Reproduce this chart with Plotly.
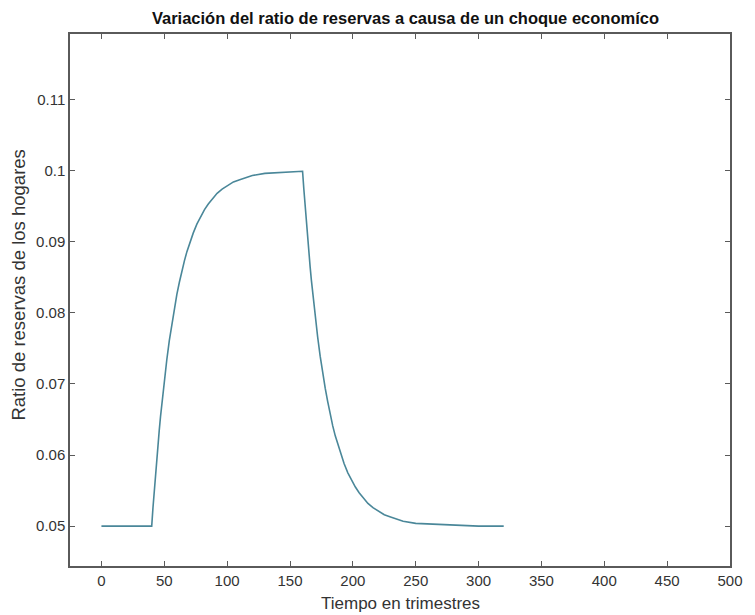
import plotly.graph_objects as go

# Household reserve ratio over time (quarters): flat, rise after the shock, return
tiempo = [0, 10, 20, 30, 40,
          41, 42, 43, 44, 45, 46, 47, 48, 49, 50, 52, 54, 56, 58, 60, 62, 64, 66,
          68, 70, 73, 76, 79, 82, 85, 88, 92, 96, 100, 105, 110, 115, 120, 130,
          140, 150, 160,
          161, 162, 163, 164, 165, 166, 167, 168, 169, 170, 172, 174, 176, 178,
          180, 182, 184, 186, 188, 190, 193, 196, 199, 202, 205, 208, 212, 216,
          220, 225, 230, 235, 240, 250, 260, 270, 280, 300, 320]
ratio = [0.0500, 0.0500, 0.0500, 0.0500, 0.0500,
         0.0526, 0.0550, 0.0573, 0.0595, 0.0616, 0.0635, 0.0654, 0.0672, 0.0689,
         0.0705, 0.0734, 0.0761, 0.0785, 0.0806, 0.0826, 0.0843, 0.0859, 0.0873,
         0.0886, 0.0897, 0.0912, 0.0925, 0.0936, 0.0945, 0.0953, 0.0960, 0.0968,
         0.0974, 0.0979, 0.0984, 0.0987, 0.0990, 0.0993, 0.0996, 0.0997, 0.0998,
         0.0999,
         0.0974, 0.0950, 0.0927, 0.0905, 0.0884, 0.0865, 0.0846, 0.0828, 0.0811,
         0.0795, 0.0766, 0.0739, 0.0715, 0.0694, 0.0675, 0.0657, 0.0641, 0.0627,
         0.0615, 0.0603, 0.0588, 0.0575, 0.0564, 0.0555, 0.0547, 0.0540, 0.0532,
         0.0526, 0.0521, 0.0516, 0.0513, 0.0510, 0.0507, 0.0504, 0.0503, 0.0502,
         0.0501, 0.0500, 0.0500]

x_ticks = [0, 50, 100, 150, 200, 250, 300, 350, 400, 450, 500]
y_ticks = [0.05, 0.06, 0.07, 0.08, 0.09, 0.10, 0.11]
y_tick_labels = ["0.05", "0.06", "0.07", "0.08", "0.09", "0.1", "0.11"]

titulo = "Variación del ratio de reservas a causa de un choque economíco"
etiqueta_x = "Tiempo en trimestres"
etiqueta_y = "Ratio de reservas de los hogares"

font_family = "Liberation Sans, Arial, sans-serif"
axis_color = "#5a5a5a"
text_color = "#333333"

fig = go.Figure()
fig.add_trace(go.Scatter(
    x=tiempo, y=ratio, mode="lines",
    line=dict(color="#4a8799", width=1.6),
    showlegend=False, hoverinfo="skip",
))

axis_common = dict(
    showline=True, linecolor=axis_color, linewidth=1.5,
    mirror="ticks", ticks="inside", ticklen=5, tickwidth=1.2,
    tickcolor=axis_color, showgrid=False, zeroline=False,
    tickfont=dict(family=font_family, size=15, color=text_color),
)

fig.update_layout(
    width=755, height=615,
    margin=dict(l=70, r=14, t=34, b=49),
    paper_bgcolor="white", plot_bgcolor="white",
    title=dict(
        text="<b>" + titulo + "</b>",
        x=0.537, xanchor="center", y=0.970, yanchor="middle",
        font=dict(family=font_family, size=16.5, color="#111111"),
    ),
    xaxis=dict(range=[-25, 500], tickvals=x_ticks, **axis_common),
    yaxis=dict(range=[0.0444, 0.1192], tickvals=y_ticks,
               ticktext=y_tick_labels, **axis_common),
)

# Axis labels placed just outside the plotting area
fig.add_annotation(
    text=etiqueta_x, xref="paper", yref="paper", x=0.5, y=-0.071,
    xanchor="center", yanchor="middle", showarrow=False,
    font=dict(family=font_family, size=17, color=text_color),
)
fig.add_annotation(
    text=etiqueta_y, xref="paper", yref="paper", x=-0.078, y=0.528,
    xanchor="center", yanchor="middle", textangle=-90, showarrow=False,
    font=dict(family=font_family, size=18.5, color=text_color),
)

fig.write_html("out.html")
